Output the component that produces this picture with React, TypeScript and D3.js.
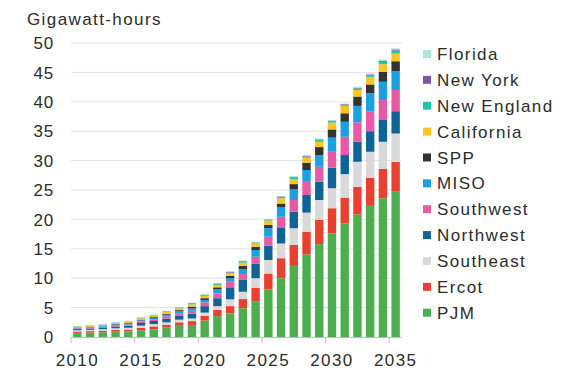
import React from "react";
import * as d3 from "d3";

const years = d3.range(2010, 2036).map(String);

// Stack order bottom -> top
const seriesNames = ["PJM", "Ercot", "Southeast", "Northwest", "Southwest", "MISO", "SPP", "California", "New England", "New York", "Florida"];
const legendLabels = ["Florida", "New York", "New England", "California", "SPP", "MISO", "Southwest", "Northwest", "Southeast", "Ercot", "PJM"];

const PJM = [0.7, 0.75, 0.8, 0.9, 0.95, 1.15, 1.3, 1.6, 1.9, 2.05, 2.8, 3.55, 4.0, 4.9, 6.1, 8.1, 10.0, 12.1, 14.05, 15.8, 17.6, 19.3, 20.85, 22.3, 23.6, 24.7];
const Ercot = [0.25, 0.25, 0.28, 0.3, 0.32, 0.4, 0.5, 0.45, 0.6, 0.65, 0.8, 1.05, 1.25, 1.55, 2.3, 2.7, 3.4, 3.55, 3.85, 4.1, 4.3, 4.4, 4.7, 4.8, 5.0, 5.1];
const Southeast = [0.2, 0.22, 0.25, 0.28, 0.3, 0.38, 0.4, 0.45, 0.45, 0.45, 0.55, 0.65, 1.15, 1.25, 1.6, 2.3, 2.5, 2.85, 3.25, 3.4, 3.4, 4.0, 4.25, 4.4, 4.6, 4.8];
const Northwest = [0.2, 0.23, 0.27, 0.32, 0.36, 0.45, 0.52, 0.62, 0.7, 0.8, 1.1, 1.35, 2.05, 2.0, 2.5, 2.4, 2.75, 2.8, 3.0, 3.1, 3.5, 3.25, 3.4, 3.5, 3.7, 3.8];
const Southwest = [0.12, 0.13, 0.15, 0.18, 0.2, 0.25, 0.3, 0.38, 0.4, 0.5, 0.65, 0.8, 0.95, 1.0, 1.15, 1.55, 1.8, 2.0, 2.25, 2.55, 2.7, 3.1, 3.3, 3.4, 3.4, 3.6];
const MISO = [0.1, 0.11, 0.12, 0.14, 0.15, 0.2, 0.25, 0.3, 0.32, 0.4, 0.4, 0.7, 0.6, 0.85, 1.15, 1.45, 1.6, 1.8, 2.0, 2.0, 2.4, 2.55, 2.8, 3.05, 3.1, 3.2];
const SPP = [0.06, 0.07, 0.08, 0.09, 0.1, 0.12, 0.14, 0.17, 0.2, 0.3, 0.3, 0.35, 0.4, 0.55, 0.55, 0.55, 0.65, 0.9, 1.25, 1.35, 1.4, 1.45, 1.6, 1.5, 1.7, 1.7];
const California = [0.12, 0.13, 0.14, 0.16, 0.18, 0.22, 0.24, 0.3, 0.3, 0.4, 0.4, 0.4, 0.4, 0.55, 0.55, 0.75, 0.9, 0.8, 0.85, 0.9, 1.15, 1.25, 1.1, 1.3, 1.3, 1.3];
const NewEngland = [0.04, 0.04, 0.04, 0.05, 0.05, 0.07, 0.07, 0.08, 0.08, 0.1, 0.12, 0.15, 0.15, 0.15, 0.15, 0.15, 0.2, 0.3, 0.2, 0.3, 0.25, 0.2, 0.3, 0.3, 0.4, 0.5];
const NewYork = [0.03, 0.03, 0.03, 0.04, 0.04, 0.05, 0.04, 0.05, 0.05, 0.1, 0.08, 0.1, 0.1, 0.1, 0.05, 0.05, 0.1, 0.1, 0.1, 0.1, 0.1, 0.1, 0.1, 0.1, 0.2, 0.2];
const Florida = [0.03, 0.04, 0.04, 0.04, 0.05, 0.06, 0.04, 0.05, 0.05, 0.1, 0.1, 0.1, 0.15, 0.1, 0.1, 0.1, 0.1, 0.2, 0.15, 0.2, 0.1, 0.1, 0.15, 0.2, 0.2, 0.2];

const seriesValues = [PJM, Ercot, Southeast, Northwest, Southwest, MISO, SPP, California, NewEngland, NewYork, Florida];

const colors: Record<string, string> = {
  PJM: "#4cae4f",
  Ercot: "#e8412f",
  Southeast: "#d9d9d9",
  Northwest: "#0f6396",
  Southwest: "#e85aa5",
  MISO: "#1ba1e2",
  SPP: "#333333",
  California: "#fec521",
  "New England": "#21c7a6",
  "New York": "#7c53ad",
  Florida: "#a9e7da",
};

const yTicks = [0, 5, 10, 15, 20, 25, 30, 35, 40, 45, 50];
const xLabelYears = ["2010", "2015", "2020", "2025", "2030", "2035"];

export default function App() {
  const width = 567;
  const height = 379;
  const x = d3.scaleBand<string>().domain(years).range([71, 402]).paddingInner(0.34).paddingOuter(0.17);
  const y = d3.scaleLinear().domain([0, 50]).range([337, 43]);

  const table = years.map((yr, i) => {
    const row: Record<string, number | string> = { year: yr };
    seriesNames.forEach((s, k) => (row[s] = seriesValues[k][i]));
    return row;
  });
  const stacked = d3.stack<any>().keys(seriesNames)(table);

  const font = "'Liberation Sans', Arial, sans-serif";
  const textColor = "#2b2b2b";
  const step = x.step();

  return (
    <svg width={width} height={height} style={{ position: "absolute", left: 0, top: 0, background: "#fff" }}>
      <text x={27} y={25} fontFamily={font} fontSize={17} letterSpacing={1.4} fill={textColor}>
        Gigawatt-hours
      </text>
      {yTicks.map((t) => (
        <g key={t}>
          {t > 0 && <line x1={71} x2={402} y1={y(t)} y2={y(t)} stroke="#e3e3e3" strokeWidth={1} />}
          <text x={54} y={y(t)} dy="0.36em" textAnchor="end" fontFamily={font} fontSize={17} letterSpacing={0.8} fill={textColor}>
            {t}
          </text>
        </g>
      ))}
      {stacked.map((layer) => (
        <g key={layer.key} fill={colors[layer.key]}>
          {layer.map((d, i) => (
            <rect
              key={i}
              x={x(years[i])}
              width={x.bandwidth()}
              y={y(d[1])}
              height={Math.max(0, y(d[0]) - y(d[1]))}
            />
          ))}
        </g>
      ))}
      <line x1={71} x2={402} y1={y(0) + 0.5} y2={y(0) + 0.5} stroke="#bfbfbf" strokeWidth={1} />
      {xLabelYears.map((yr) => {
        const left = (x(yr) as number) - (step - x.bandwidth()) / 2;
        return (
          <g key={yr}>
            <line x1={left} x2={left} y1={y(0)} y2={y(0) + 6} stroke="#bfbfbf" strokeWidth={1} />
            <text x={(x(yr) as number) + x.bandwidth() / 2} y={366} textAnchor="middle" fontFamily={font} fontSize={17} letterSpacing={1.4} fill={textColor}>
              {yr}
            </text>
          </g>
        );
      })}
      {legendLabels.map((name, i) => {
        const cy = 54 + i * 25.87;
        return (
          <g key={name}>
            <rect x={423} y={cy - 4} width={8} height={8} fill={colors[name]} />
            <text x={437} y={cy} dy="0.36em" fontFamily={font} fontSize={17} letterSpacing={1.4} fill={textColor}>
              {name}
            </text>
          </g>
        );
      })}
    </svg>
  );
}
